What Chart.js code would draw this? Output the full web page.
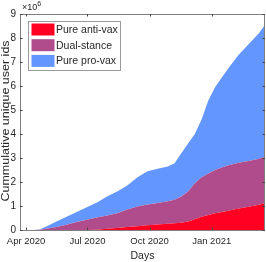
<!DOCTYPE html>
<html>
<head>
<meta charset="utf-8">
<script src="https://cdn.jsdelivr.net/npm/chart.js@4"></script>
<style>
  html, body { margin: 0; padding: 0; background: #fff; }
  #chart { display: block; }
</style>
</head>
<body>
<canvas id="chart" width="266" height="262"></canvas>
<script>
// days since 1 Apr 2020
const days = [0, 10, 20, 30, 45, 60, 75, 90, 105, 120, 135, 150, 165, 180, 195,
  210, 220, 230, 240, 250, 260, 270, 280, 290, 300, 315, 330, 345, 354];
// values in millions of user ids
const antiVax = [0, 0, 0, 0, 0, 0, 0, 0, 0.01, 0.05, 0.08, 0.12, 0.16, 0.2, 0.23,
  0.26, 0.28, 0.3, 0.35, 0.45, 0.55, 0.62, 0.7, 0.75, 0.8, 0.9, 0.97, 1.05, 1.12];
const dualStance = [0, 0, 0.01, 0.05, 0.12, 0.22, 0.33, 0.43, 0.51, 0.55, 0.62, 0.73, 0.82, 0.86, 0.9,
  0.94, 0.98, 1.1, 1.25, 1.5, 1.65, 1.73, 1.8, 1.85, 1.9, 1.9, 1.91, 1.92, 1.93];
const proVax = [0, 0, 0.01, 0.1, 0.23, 0.33, 0.42, 0.52, 0.63, 0.8, 0.9, 1.0, 1.22, 1.39, 1.42,
  1.45, 1.52, 1.8, 2.0, 2.05, 2.4, 3.05, 3.45, 3.75, 4.05, 4.5, 4.87, 5.23, 5.5];

const seriesNames = ['Pure anti-vax', 'Dual-stance', 'Pure pro-vax'];
const seriesColors = ['#ff0022', '#b04c8c', '#6496ff'];
const tickDays = [0, 91, 183, 275];
const tickLabels = ['Apr 2020', 'Jul 2020', 'Oct 2020', 'Jan 2021'];
const yTicks = [0, 1, 2, 3, 4, 5, 6, 7, 8, 9];
const yTitle = 'Cummulative unique user ids';

const FONT = "'Liberation Sans', Arial, sans-serif";
const AXIS_COLOR = '#808080';
const TEXT_COLOR = '#262626';

function toPoints(values) {
  return values.map((v, i) => ({ x: days[i], y: v }));
}

// box around the plot with matlab style inside ticks
const axesBox = {
  id: 'axesBox',
  afterDatasetsDraw(chart) {
    const { ctx, chartArea: { left, top, right, bottom } } = chart;
    const xs = chart.scales.x;
    const ys = chart.scales.y;
    const len = 2.5;
    ctx.save();
    ctx.strokeStyle = AXIS_COLOR;
    ctx.lineWidth = 1;
    ctx.strokeRect(Math.round(left) + 0.5, Math.round(top) + 0.5,
      Math.round(right - left) - 1, Math.round(bottom - top));
    ctx.strokeStyle = '#444';
    ctx.beginPath();
    for (const d of tickDays) {
      const px = Math.round(xs.getPixelForValue(d)) + 0.5;
      ctx.moveTo(px, bottom); ctx.lineTo(px, bottom - len);
      ctx.moveTo(px, top); ctx.lineTo(px, top + len);
    }
    for (const v of yTicks) {
      const py = Math.round(ys.getPixelForValue(v)) + 0.5;
      ctx.moveTo(left, py); ctx.lineTo(left + len, py);
      ctx.moveTo(right, py); ctx.lineTo(right - len, py);
    }
    ctx.stroke();
    ctx.restore();
  },
};

// legend inside the axes (upper left), then y labels, y title and exponent
const insideLegend = {
  id: 'insideLegend',
  afterDraw(chart) {
    const { ctx, chartArea: { left, top, bottom } } = chart;
    const ys = chart.scales.y;
    const x0 = left + 8.5, y0 = top + 7.5;
    const w = 92, h = 49;
    ctx.save();
    ctx.fillStyle = '#fff';
    ctx.fillRect(x0, y0, w, h);
    ctx.strokeStyle = '#9a9a9a';
    ctx.lineWidth = 1;
    ctx.strokeRect(x0, y0, w, h);
    ctx.font = `10.5px ${FONT}`;
    ctx.textBaseline = 'middle';
    ctx.textAlign = 'left';
    chart.data.datasets.forEach((ds, i) => {
      const cy = y0 + 8 + i * 15.7;
      ctx.fillStyle = ds.backgroundColor;
      ctx.fillRect(x0 + 3, cy - 6, 23, 12);
      ctx.fillStyle = TEXT_COLOR;
      ctx.fillText(ds.label, x0 + 27.5, cy + 0.5);
    });

    ctx.fillStyle = TEXT_COLOR;
    ctx.font = `10px ${FONT}`;
    ctx.textAlign = 'right';
    ctx.textBaseline = 'middle';
    for (const v of yTicks) {
      ctx.fillText(String(v), left - 4, ys.getPixelForValue(v) + 0.5);
    }

    ctx.textBaseline = 'alphabetic';
    ctx.textAlign = 'left';
    ctx.font = `9px ${FONT}`;
    ctx.fillText('\u00d710', left + 2, top - 4);
    const tw = ctx.measureText('\u00d710').width;
    ctx.font = `7px ${FONT}`;
    ctx.fillText('6', left + 2 + tw, top - 8);

    // rotated y title, glyphs a little narrower as in the source figure
    ctx.translate(6.5, (top + bottom) / 2 - 1);
    ctx.rotate(-Math.PI / 2);
    ctx.scale(1, 0.8);
    ctx.textAlign = 'center';
    ctx.textBaseline = 'middle';
    ctx.font = `12.5px ${FONT}`;
    ctx.fillText(yTitle, 0, 0);
    ctx.restore();
  },
};

const datasets = [antiVax, dualStance, proVax].map((values, i) => ({
  label: seriesNames[i],
  data: toPoints(values),
  backgroundColor: seriesColors[i],
  borderWidth: 0,
  pointRadius: 0,
  tension: 0,
  fill: i === 0 ? 'origin' : '-1',
}));

new Chart(document.getElementById('chart'), {
  type: 'line',
  data: { datasets },
  plugins: [axesBox, insideLegend],
  options: {
    responsive: false,
    animation: false,
    layout: { padding: { top: 14, right: 1, left: 0, bottom: 0 } },
    plugins: {
      legend: { display: false },
      tooltip: { enabled: false },
    },
    scales: {
      x: {
        type: 'linear',
        min: -9,
        max: 354,
        afterBuildTicks(scale) {
          scale.ticks = tickDays.map((v) => ({ value: v }));
        },
        afterFit(scale) {
          scale.height = 32;
        },
        grid: { display: false, drawTicks: false },
        border: { display: false },
        ticks: {
          autoSkip: false,
          maxRotation: 0,
          padding: 6,
          color: TEXT_COLOR,
          font: { family: FONT, size: 9.5 },
          callback: (v) => tickLabels[tickDays.indexOf(v)],
        },
        title: {
          display: true,
          text: 'Days',
          color: TEXT_COLOR,
          font: { family: FONT, size: 10.5 },
          padding: { top: 0, bottom: 0 },
        },
      },
      y: {
        stacked: true,
        min: 0,
        max: 9,
        afterFit(scale) {
          scale.width = 20;
        },
        grid: { display: false, drawTicks: false },
        border: { display: false },
        ticks: { display: false },
        title: { display: false },
      },
    },
  },
});
</script>
</body>
</html>
